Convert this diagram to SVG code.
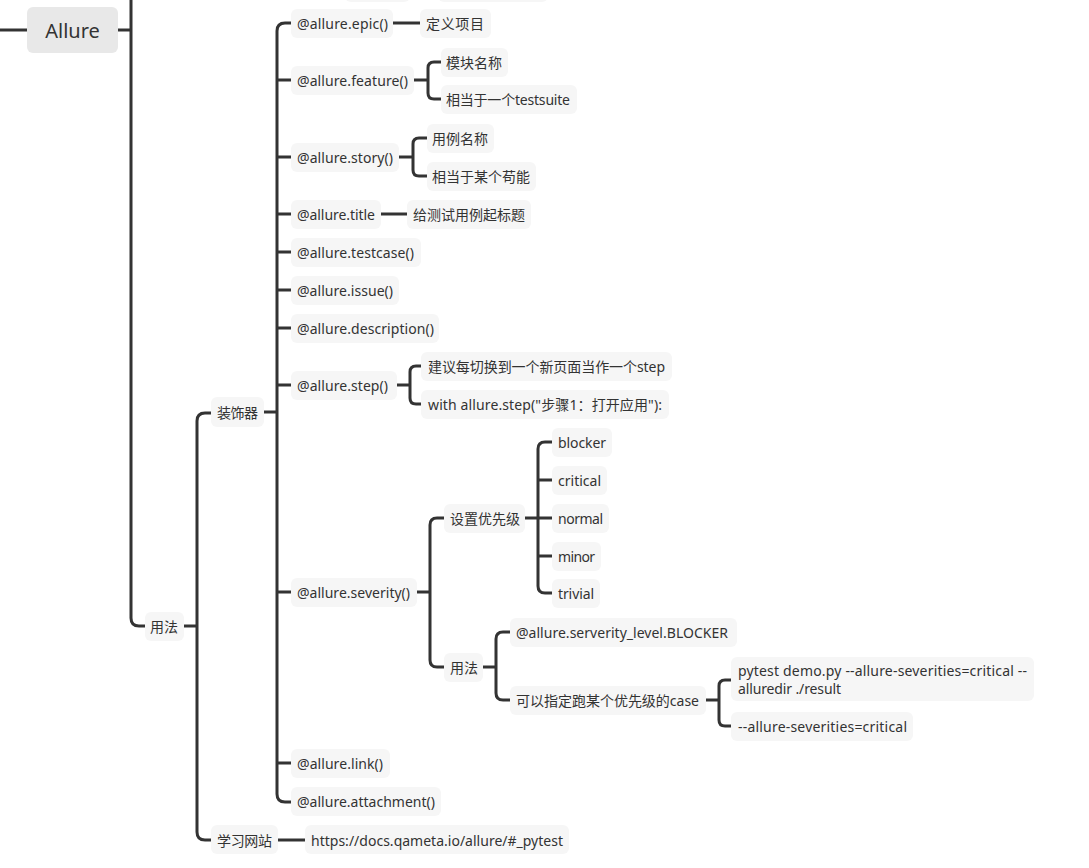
<svg xmlns="http://www.w3.org/2000/svg" width="1089" height="868" viewBox="0 0 1089 868">
<style>
.n rect{fill:#f6f6f6}
.r rect{fill:#e8e8e8}
text{font-family:"Noto Sans","Noto Sans CJK SC",sans-serif;font-size:14px;fill:#333;dominant-baseline:central}
.r text{font-size:20px}
.c path{stroke:#333;stroke-width:3;fill:none}
</style>
<rect width="1089" height="868" fill="#fff"/>
<g class="c" id="connectors">
<path d="M0 30H27"/>
<path d="M118 30H131"/>
<path d="M131 -5V618Q131 626 139 626H145"/>
<path d="M184 626H197"/>
<path d="M211 413H205Q197 413 197 421V832Q197 840 205 840H211"/>
<path d="M264 412H277"/>
<path d="M278 840H305"/>
<path d="M291 23H285Q277 23 277 31V794Q277 802 285 802H291"/>
<path d="M277 80H291M277 157H291M277 214H291M277 252H291M277 290H291M277 328H291M277 385H291M277 592H291M277 763H291"/>
<path d="M393 23H420"/>
<path d="M414 80H428"/>
<path d="M441 62H434Q428 62 428 68V93Q428 99 434 99H441"/>
<path d="M399 157H413"/>
<path d="M427 138H419Q413 138 413 144V170Q413 176 419 176H427"/>
<path d="M381 214H407"/>
<path d="M397 385H410"/>
<path d="M421 366H416Q410 366 410 372V398Q410 404 416 404H421"/>
<path d="M417 592H430"/>
<path d="M444 518H437Q430 518 430 525V660Q430 667 437 667H444"/>
<path d="M525 518H538"/>
<path d="M552 442H545Q538 442 538 449V586Q538 593 545 593H552"/>
<path d="M538 480H552M538 518H552M538 556H552"/>
<path d="M483 667H496"/>
<path d="M510 632H503Q496 632 496 639V693Q496 700 503 700H510"/>
<path d="M706 700H719"/>
<path d="M731 680H725Q719 680 719 686V720Q719 726 725 726H731"/>
</g>
<g class="n" id="top-partial-1"><rect x="345" y="-27" width="65" height="29" rx="6"/></g>
<g class="n" id="top-partial-2"><rect x="438" y="-27" width="110" height="29" rx="6"/></g>
<g class="r" id="allure"><rect x="27" y="7" width="91" height="46" rx="6"/><text x="72.5" y="30" text-anchor="middle">Allure</text></g>
<g class="n" id="yongfa"><rect x="145" y="612" width="39" height="29" rx="6"/><text x="150" y="626" textLength="28">用法</text></g>
<g class="n" id="zhuangshiqi"><rect x="211" y="397" width="53" height="30" rx="6"/><text x="217" y="412" textLength="41">装饰器</text></g>
<g class="n" id="xuexi"><rect x="211" y="825" width="67" height="29" rx="6"/><text x="217" y="840" textLength="55">学习网站</text></g>
<g class="n" id="url"><rect x="305" y="825" width="264" height="29" rx="6"/><text x="311" y="840" textLength="252">https://docs.qameta.io/allure/#_pytest</text></g>
<g class="n" id="epic"><rect x="291" y="9" width="102" height="29" rx="6"/><text x="297" y="23" textLength="91">@allure.epic()</text></g>
<g class="n" id="epic-1"><rect x="420" y="9" width="71" height="29" rx="6"/><text x="426" y="23" textLength="58">定义项目</text></g>
<g class="n" id="feature"><rect x="291" y="66" width="123" height="29" rx="6"/><text x="297" y="80" textLength="111">@allure.feature()</text></g>
<g class="n" id="feature-1"><rect x="441" y="48" width="67" height="29" rx="6"/><text x="446" y="62" textLength="56">模块名称</text></g>
<g class="n" id="feature-2"><rect x="441" y="85" width="136" height="29" rx="6"/><text x="446" y="99" textLength="124">相当于一个testsuite</text></g>
<g class="n" id="story"><rect x="291" y="143" width="108" height="29" rx="6"/><text x="297" y="157" textLength="96">@allure.story()</text></g>
<g class="n" id="story-1"><rect x="427" y="124" width="67" height="29" rx="6"/><text x="432" y="138" textLength="56">用例名称</text></g>
<g class="n" id="story-2"><rect x="427" y="162" width="109" height="29" rx="6"/><text x="432" y="176" textLength="98">相当于某个苟能</text></g>
<g class="n" id="title"><rect x="291" y="200" width="90" height="29" rx="6"/><text x="297" y="214" textLength="78">@allure.title</text></g>
<g class="n" id="title-1"><rect x="407" y="200" width="124" height="29" rx="6"/><text x="413" y="214" textLength="112">给测试用例起标题</text></g>
<g class="n" id="testcase"><rect x="291" y="238" width="130" height="29" rx="6"/><text x="297" y="252" textLength="117">@allure.testcase()</text></g>
<g class="n" id="issue"><rect x="291" y="276" width="108" height="29" rx="6"/><text x="297" y="290" textLength="96">@allure.issue()</text></g>
<g class="n" id="description"><rect x="291" y="314" width="148" height="29" rx="6"/><text x="297" y="328" textLength="137">@allure.description()</text></g>
<g class="n" id="step"><rect x="291" y="371" width="106" height="29" rx="6"/><text x="297" y="385" textLength="91">@allure.step()</text></g>
<g class="n" id="step-1"><rect x="421" y="352" width="251" height="29" rx="6"/><text x="428" y="366" textLength="237">建议每切换到一个新页面当作一个step</text></g>
<g class="n" id="step-2"><rect x="421" y="390" width="248" height="29" rx="6"/><text x="428" y="404" textLength="234">with allure.step("步骤1：打开应用"):</text></g>
<g class="n" id="severity"><rect x="291" y="578" width="126" height="29" rx="6"/><text x="297" y="592" textLength="113">@allure.severity()</text></g>
<g class="n" id="setlevel"><rect x="444" y="504" width="81" height="29" rx="6"/><text x="450" y="518" textLength="70">设置优先级</text></g>
<g class="n" id="blocker"><rect x="552" y="428" width="60" height="29" rx="6"/><text x="558" y="442" textLength="48">blocker</text></g>
<g class="n" id="critical"><rect x="552" y="466" width="55" height="29" rx="6"/><text x="558" y="480" textLength="43">critical</text></g>
<g class="n" id="normal"><rect x="552" y="504" width="57" height="29" rx="6"/><text x="558" y="518" textLength="45">normal</text></g>
<g class="n" id="minor"><rect x="552" y="542" width="49" height="29" rx="6"/><text x="558" y="556" textLength="37">minor</text></g>
<g class="n" id="trivial"><rect x="552" y="579" width="48" height="29" rx="6"/><text x="558" y="593" textLength="36">trivial</text></g>
<g class="n" id="usage"><rect x="444" y="653" width="39" height="29" rx="6"/><text x="450" y="667" textLength="28">用法</text></g>
<g class="n" id="usage-1"><rect x="510" y="618" width="227" height="29" rx="6"/><text x="516" y="632" textLength="212">@allure.serverity_level.BLOCKER</text></g>
<g class="n" id="usage-2"><rect x="510" y="686" width="196" height="29" rx="6"/><text x="516" y="700" textLength="183">可以指定跑某个优先级的case</text></g>
<g class="n" id="pytest"><rect x="731" y="657" width="303" height="44" rx="6"/><text x="738" y="670" textLength="289">pytest demo.py --allure-severities=critical --</text><text x="738" y="688" textLength="103">alluredir ./result</text></g>
<g class="n" id="sevopt"><rect x="731" y="712" width="182" height="29" rx="6"/><text x="738" y="726" textLength="169">--allure-severities=critical</text></g>
<g class="n" id="link"><rect x="291" y="749" width="99" height="29" rx="6"/><text x="297" y="763" textLength="86">@allure.link()</text></g>
<g class="n" id="attachment"><rect x="291" y="787" width="150" height="29" rx="6"/><text x="297" y="801" textLength="138">@allure.attachment()</text></g>
</svg>
